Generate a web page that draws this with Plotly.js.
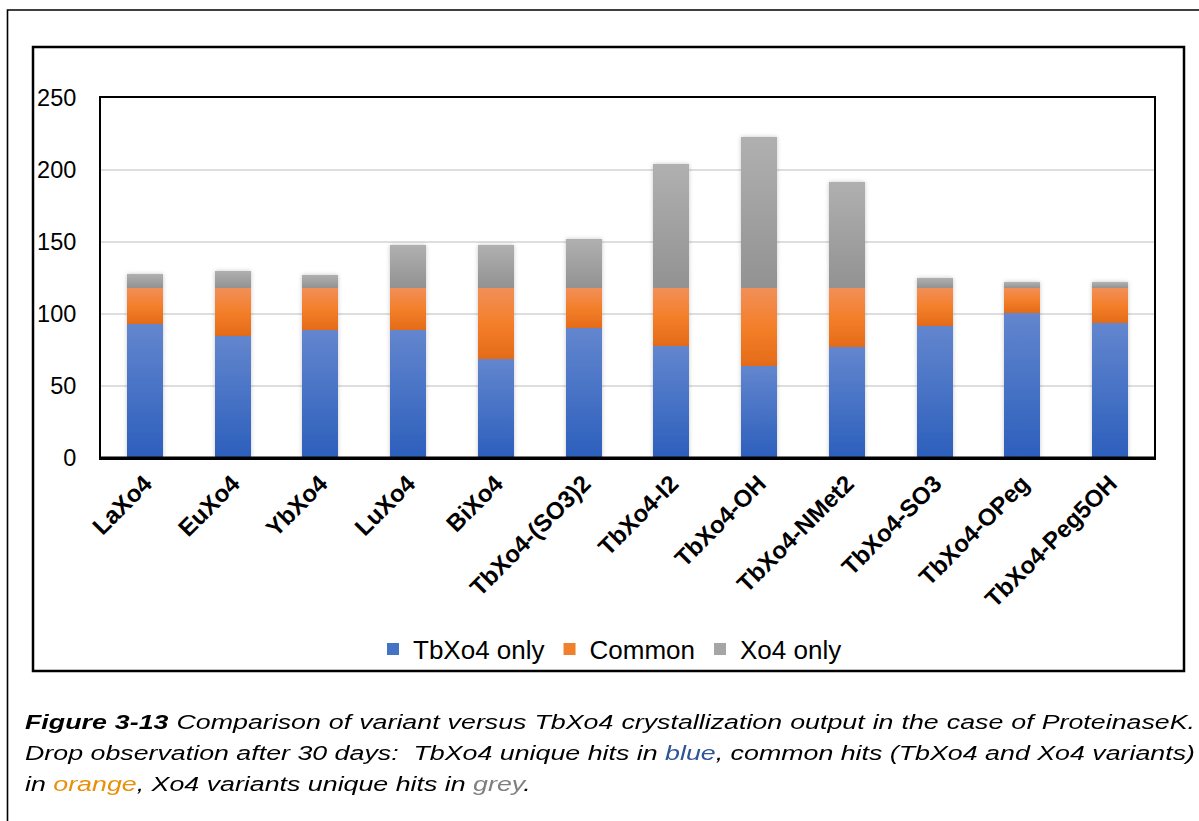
<!DOCTYPE html>
<html>
<head>
<meta charset="utf-8">
<script src="https://cdn.plot.ly/plotly-3.0.1.min.js"></script>
<style>
  html, body { margin:0; padding:0; background:#fff; }
  #wrap { position:relative; width:1199px; height:821px; overflow:hidden; }
  #chart { position:absolute; left:0; top:0; width:1199px; height:821px; }
  #cap { position:absolute; left:25px; top:707px; font-family:'Liberation Sans', Arial, sans-serif;
         font-style:italic; font-size:20px; line-height:30.8px; color:#000; transform-origin:0 0; }
  #cap .j { text-align:justify; text-align-last:justify; }
  #cap .m { display:inline-block; white-space:nowrap; }
</style>
</head>
<body>
<div id="wrap">
  <div id="chart"></div>
  <div id="cap">
    <div class="j" id="l1"><span class="m" id="m1"><b>Figure 3-13</b> Comparison of variant versus TbXo4 crystallization output in the case of ProteinaseK.</span></div>
    <div class="j" id="l2"><span class="m" id="m2">Drop observation after 30 days:&nbsp; TbXo4 unique hits in <span style="color:#2F5597">blue</span>, common hits (TbXo4 and Xo4 variants)</span></div>
    <div id="l3">in <span style="color:#E8900C">orange</span>, Xo4 variants unique hits in <span style="color:#7F7F7F">grey</span>.</div>
  </div>
</div>
<script>
// ---- data ----
const categories = ['LaXo4','EuXo4','YbXo4','LuXo4','BiXo4','TbXo4-(SO3)2','TbXo4-I2','TbXo4-OH','TbXo4-NMet2','TbXo4-SO3','TbXo4-OPeg','TbXo4-Peg5OH'];
const tbOnly  = [93, 85, 89, 89, 69, 90, 78, 64, 77, 92, 101, 94];
const common  = [25, 33, 29, 29, 49, 28, 40, 54, 41, 26, 17, 24];
const xo4Only = [10, 12,  9, 30, 30, 34, 86, 105, 74, 7,  4,  4];
const seriesNames = ['TbXo4 only', 'Common', 'Xo4 only'];
const yTicks = [0, 50, 100, 150, 200, 250];

// ---- styling ----
const FONT = "'Liberation Sans', Arial, sans-serif";
const colors = ['#4472C4', '#F07F2E', '#A5A5A5'];
const gradStops = [
  [[0, '#6386CE'], [1, '#2C5FBC']],
  [[0, '#F18F58'], [0.5, '#F47F2A'], [1, '#E46B18']],
  [[0, '#B0B0B0'], [1, '#929292']]
];

const W = 1199, H = 821;
const M = {l:101, r:45, t:98, b:363};
const PW = W - M.l - M.r, PH = H - M.t - M.b;
const px = v => (v - M.l) / PW;
const py = v => (H - M.b - v) / PH;

const traces = [tbOnly, common, xo4Only].map((vals, i) => ({
  type: 'bar',
  name: seriesNames[i],
  x: categories,
  y: vals,
  marker: { color: colors[i], line: { width: 0 } },
  hoverinfo: 'skip'
}));

const layout = {
  width: W, height: H,
  margin: M,
  barmode: 'stack',
  bargap: 0.59,
  paper_bgcolor: 'rgba(0,0,0,0)',
  plot_bgcolor: '#fff',
  font: { family: FONT, color: '#000' },
  showlegend: true,
  legend: {
    orientation: 'h', x: px(610), xanchor: 'center', y: py(649), yanchor: 'middle',
    font: { size: 26, family: FONT, color: '#000' },
    traceorder: 'normal', itemclick: false, itemdoubleclick: false
  },
  xaxis: {
    type: 'category',
    tickangle: -45,
    tickfont: { size: 24, family: FONT, color: '#000', weight: 'bold' },
    showline: true, linecolor: '#000', linewidth: 2, mirror: true,
    ticks: '', showgrid: false, fixedrange: true
  },
  yaxis: {
    range: [0, 250], tickvals: yTicks, ticktext: yTicks.map(String),
    tickfont: { size: 23.5, family: FONT, color: '#000' },
    showline: true, linecolor: '#000', linewidth: 2, mirror: true,
    gridcolor: '#DEDEDE', gridwidth: 1.5, zeroline: false,
    ticks: '', ticklabelstandoff: 18, fixedrange: true
  },
  shapes: [
    { type: 'rect', xref: 'paper', yref: 'paper', x0: px(7.5), x1: px(1260), y0: py(10), y1: py(900),
      line: { color: '#000', width: 1.6 }, layer: 'below' },
    { type: 'rect', xref: 'paper', yref: 'paper', x0: px(33), x1: px(1184), y0: py(47), y1: py(671),
      line: { color: '#000', width: 2.5 }, layer: 'below' },
    { type: 'line', xref: 'paper', yref: 'paper', x0: 0, x1: 1, y0: 0, y1: 0,
      line: { color: '#000', width: 3 }, layer: 'above' }
  ]
};

Plotly.newPlot('chart', traces, layout, { staticPlot: true, displayModeBar: false }).then(gd => {
  const ns = 'http://www.w3.org/2000/svg';
  const svg = gd.querySelector('svg.main-svg');
  let defs = svg.querySelector('defs');
  if (!defs) { defs = document.createElementNS(ns, 'defs'); svg.insertBefore(defs, svg.firstChild); }
  gradStops.forEach((stops, i) => {
    const lg = document.createElementNS(ns, 'linearGradient');
    lg.setAttribute('id', 'bargrad' + i);
    lg.setAttribute('x1', '0'); lg.setAttribute('y1', '0');
    lg.setAttribute('x2', '0'); lg.setAttribute('y2', '1');
    stops.forEach(([o, c]) => {
      const s = document.createElementNS(ns, 'stop');
      s.setAttribute('offset', o); s.setAttribute('stop-color', c);
      lg.appendChild(s);
    });
    defs.appendChild(lg);
  });
  const f = document.createElementNS(ns, 'filter');
  f.setAttribute('id', 'barshadow');
  f.setAttribute('x', '-20%'); f.setAttribute('y', '-5%');
  f.setAttribute('width', '140%'); f.setAttribute('height', '110%');
  const ds = document.createElementNS(ns, 'feDropShadow');
  ds.setAttribute('dx', '0'); ds.setAttribute('dy', '0');
  ds.setAttribute('stdDeviation', '2'); ds.setAttribute('flood-color', '#000');
  ds.setAttribute('flood-opacity', '0.22');
  f.appendChild(ds); defs.appendChild(f);
  const bl = gd.querySelector('.barlayer');
  if (bl) bl.setAttribute('filter', 'url(#barshadow)');
  gd.querySelectorAll('.barlayer .trace').forEach((t, i) => {
    t.querySelectorAll('path').forEach(p => { p.style.fill = 'url(#bargrad' + i + ')'; });
  });
});

// caption: justified lines, horizontally stretched as in the reference
(function () {
  const m1 = document.getElementById('m1'), m2 = document.getElementById('m2');
  const w = Math.max(m1.getBoundingClientRect().width, m2.getBoundingClientRect().width);
  const target = 1170;
  const s = target / w;
  const cap = document.getElementById('cap');
  cap.style.width = w + 'px';
  ['m1', 'm2'].forEach(id => { const e = document.getElementById(id); e.style.display = 'inline'; e.style.whiteSpace = 'normal'; });
  cap.style.transform = 'scaleX(' + s + ')';
})();
</script>
</body>
</html>
